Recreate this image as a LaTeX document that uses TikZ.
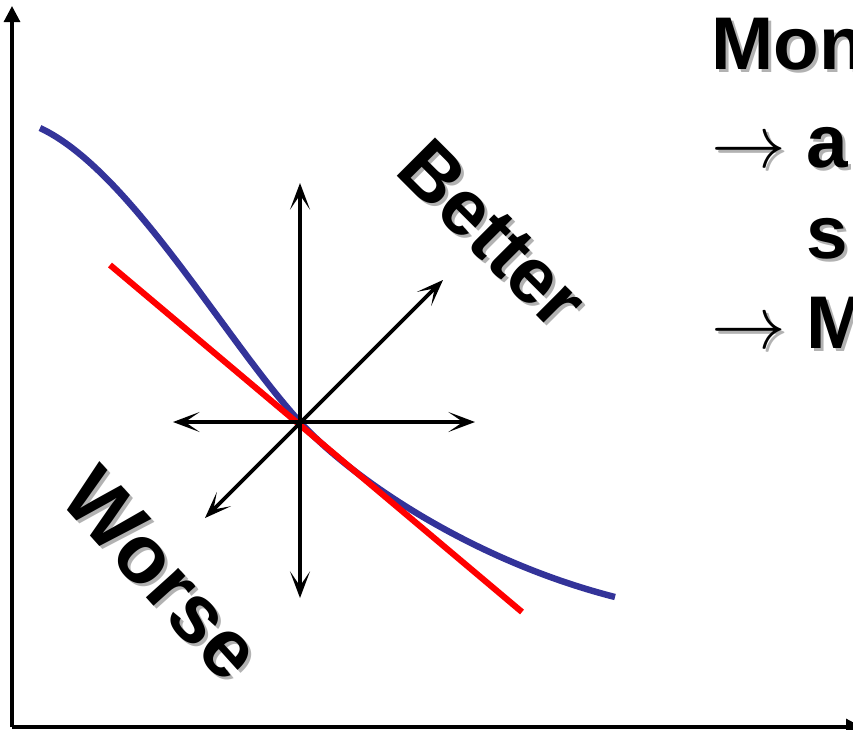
\RequirePackage{fix-cm}
\documentclass[tikz,border=0pt]{standalone}
\usepackage{fontspec}
\setmainfont{Liberation Sans}
\usetikzlibrary{arrows.meta}
\definecolor{curveBlue}{HTML}{333399}
\definecolor{tangentRed}{HTML}{FF0000}

\begin{document}
\begin{tikzpicture}[
  x=0.75pt, y=-0.75pt,
  every node/.style={font=\fontsize{56}{66}\selectfont\bfseries, inner sep=0pt},
  big/.style={font=\fontsize{59}{70}\selectfont\bfseries},
  txtshadow/.style={text=black!30},
  axis/.style={draw, line width=2.3pt, -{Triangle[length=12pt, width=12pt]}},
  dir/.style={
    draw,
    line width=2.7pt,
    {Stealth[length=20pt, width=15pt, inset=11pt]}-{Stealth[length=20pt, width=15pt, inset=11pt]}
  },
  curve/.style={draw=curveBlue, line width=4.8pt},
  tangent/.style={draw=tangentRed, line width=4.6pt}
]
\useasboundingbox (0,0) rectangle (853,729);

% axes
\coordinate (orig) at (12,727);
\coordinate (ytop) at (12,6);
\coordinate (xend) at (862,727);
\draw[axis] (orig) -- (ytop);
\draw[axis] (orig) -- (xend);

% curve and its tangent
\coordinate (cstart) at (40,128);
\coordinate (ctr) at (300,422);
\coordinate (cend) at (615,597);
\draw[curve] (cstart) .. controls (130,170) and (225,340) .. (ctr)
  .. controls (350,477) and (470,560) .. (cend);
\coordinate (tstart) at (110,265);
\coordinate (tend) at (522,612);
\draw[tangent] (tstart) -- (tend);

% directions
\coordinate (up) at (300,183);
\coordinate (down) at (300,598);
\coordinate (left) at (173,422);
\coordinate (right) at (475,422);
\coordinate (ne) at (443,280);
\coordinate (sw) at (205,518);
\draw[dir] (down) -- (up);
\draw[dir] (left) -- (right);
\draw[dir] (sw) -- (ne);

% labels
\node[big, txtshadow, rotate=-45] (bettershd) at (496,237) {Better};
\node[big, rotate=-45] (better) at (493,234) {Better};
\node[big, txtshadow, rotate=-48, font=\fontsize{62}{72}\selectfont\bfseries] (worseshd) at (165,577) {Worse};
\node[big, rotate=-48, font=\fontsize{62}{72}\selectfont\bfseries] (worse) at (162,574) {Worse};

\node[txtshadow, anchor=base west] (monshd) at (714,72) {Mon};
\node[anchor=base west] (mon) at (711,69) {Mon};
\node[txtshadow, anchor=base west] (lineashd) at (714,170) {$\rightarrow$ a};
\node[anchor=base west] (linea) at (711,167) {$\rightarrow$ a};
\node[txtshadow, anchor=base west] (linesshd) at (714,261) {\hphantom{$\rightarrow$ }s};
\node[anchor=base west] (lines) at (711,258) {\hphantom{$\rightarrow$ }s};
\node[txtshadow, anchor=base west] (linemshd) at (714,351) {$\rightarrow$ M};
\node[anchor=base west] (linem) at (711,348) {$\rightarrow$ M};

\end{tikzpicture}
\end{document}
